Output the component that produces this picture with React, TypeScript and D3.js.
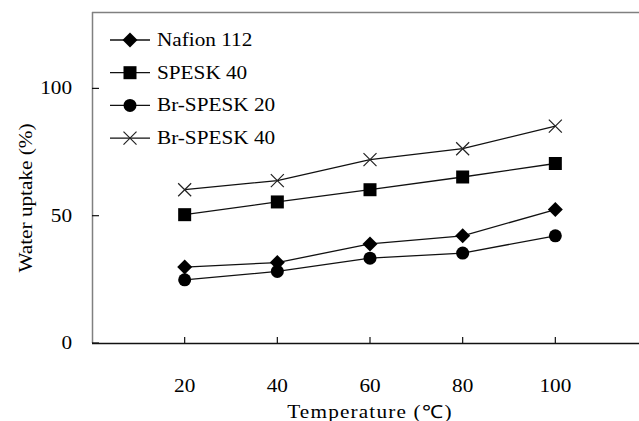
import React, { useEffect, useRef } from 'react';
import * as d3 from 'd3';

const temperatures = [20, 40, 60, 80, 100];
const nafion112 = [29.8, 31.6, 38.9, 42.1, 52.4];
const spesk40 = [50.4, 55.4, 60.2, 65.2, 70.5];
const brSpesk20 = [24.8, 28.1, 33.3, 35.3, 42.1];
const brSpesk40 = [60.2, 63.8, 72.0, 76.3, 85.2];
const seriesNames = ['Nafion 112', 'SPESK 40', 'Br-SPESK 20', 'Br-SPESK 40'];
const markerTypes = ['diamond', 'square', 'circle', 'cross'];
const yTicks = [0, 50, 100];

const width = 639;
const height = 421;
const font = '"Liberation Serif", "Times New Roman", serif';

function drawMarker(g: any, type: string, cx: number, cy: number) {
  if (type === 'diamond') {
    g.append('path')
      .attr('d', `M${cx},${cy - 7.5}L${cx + 7.5},${cy}L${cx},${cy + 7.5}L${cx - 7.5},${cy}Z`)
      .attr('fill', 'black');
  } else if (type === 'square') {
    g.append('rect')
      .attr('x', cx - 6.5)
      .attr('y', cy - 6.5)
      .attr('width', 13)
      .attr('height', 13)
      .attr('fill', 'black');
  } else if (type === 'circle') {
    g.append('circle')
      .attr('cx', cx)
      .attr('cy', cy)
      .attr('r', 6.5)
      .attr('fill', 'black');
  } else {
    g.append('path')
      .attr('d', `M${cx - 6.5},${cy - 6.5}L${cx + 6.5},${cy + 6.5}M${cx - 6.5},${cy + 6.5}L${cx + 6.5},${cy - 6.5}`)
      .attr('stroke', '#222')
      .attr('stroke-width', 1.2)
      .attr('fill', 'none');
  }
}

// wide serif text, like the reference's rendering
function addText(svg: any, x: number, y: number, str: string, anchor = 'start', rotate = 0, size = 18, spacing = 0) {
  return svg.append('text')
    .attr('transform', `translate(${x},${y}) rotate(${rotate}) scale(1.18,1)`)
    .attr('text-anchor', anchor)
    .attr('font-family', font)
    .attr('font-size', size)
    .attr('letter-spacing', spacing)
    .attr('fill', '#000')
    .text(str);
}

export default function App() {
  const ref = useRef<SVGSVGElement>(null);

  useEffect(() => {
    const svg = d3.select(ref.current);
    svg.selectAll('*').remove();

    const x = d3.scaleLinear().domain([0, 120]).range([92, 648]);
    const y = d3.scaleLinear().domain([0, 130]).range([343, 12]);

    // plot frame (top border, gray y axis)
    svg.append('line').attr('x1', 92).attr('x2', width).attr('y1', 12.5).attr('y2', 12.5)
      .attr('stroke', '#808080').attr('stroke-width', 1.5);
    svg.append('line').attr('x1', 92.5).attr('x2', 92.5).attr('y1', 12).attr('y2', 343)
      .attr('stroke', '#808080').attr('stroke-width', 1.5);

    // x axis
    svg.append('line').attr('x1', 92).attr('x2', width).attr('y1', 343.5).attr('y2', 343.5)
      .attr('stroke', '#111').attr('stroke-width', 1.5);
    temperatures.forEach((t) => {
      svg.append('line').attr('x1', x(t)).attr('x2', x(t)).attr('y1', 343).attr('y2', 337)
        .attr('stroke', '#111').attr('stroke-width', 1.2);
      addText(svg, x(t), 392, String(t), 'middle');
    });

    // y axis
    yTicks.forEach((v) => {
      svg.append('line').attr('x1', 92).attr('x2', 99).attr('y1', y(v)).attr('y2', y(v))
        .attr('stroke', '#111').attr('stroke-width', 1.2);
      addText(svg, 72, y(v) + 6, String(v), 'end');
    });

    addText(svg, 32, 198, 'Water uptake (%)', 'middle', -90);
    addText(svg, 370, 418, 'Temperature (℃)', 'middle', 0, 18, 1);

    const allSeries = [nafion112, spesk40, brSpesk20, brSpesk40];
    const line = d3.line<number>().x((d, i) => x(temperatures[i])).y((d) => y(d));

    allSeries.forEach((values, si) => {
      const g = svg.append('g');
      g.append('path').datum(values).attr('d', line)
        .attr('fill', 'none').attr('stroke', '#111').attr('stroke-width', 1.3);
      values.forEach((v, i) => drawMarker(g, markerTypes[si], x(temperatures[i]), y(v)));
    });

    // legend
    seriesNames.forEach((name, i) => {
      const ly = 40 + i * 32.7;
      const g = svg.append('g');
      g.append('line').attr('x1', 110).attr('x2', 150).attr('y1', ly).attr('y2', ly)
        .attr('stroke', '#111').attr('stroke-width', 1.3);
      drawMarker(g, markerTypes[i], 130, ly);
      addText(g, 157, ly + 6, name);
    });
  }, []);

  return (
    <svg
      ref={ref}
      width={width}
      height={height}
      style={{ position: 'absolute', left: 0, top: 0, background: 'white' }}
    />
  );
}
